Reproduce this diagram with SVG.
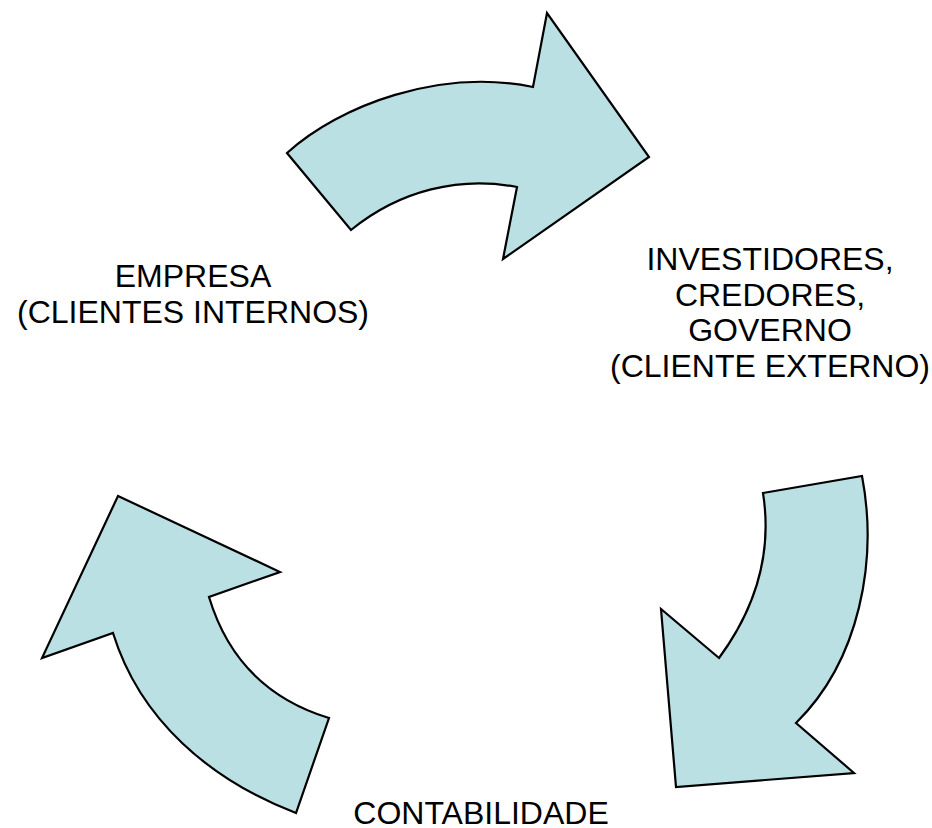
<svg xmlns="http://www.w3.org/2000/svg" width="932" height="828" viewBox="0 0 932 828">
<style>
.arrow{fill:#BBE0E3;stroke:#000;stroke-width:2.2;stroke-linejoin:miter}
.lbl{font-family:"Liberation Sans",Arial,sans-serif;font-size:32px;fill:#000;text-anchor:middle}
</style>
<rect width="932" height="828" fill="#fff"/>
<g id="connectors">
<path id="arrow-top" class="arrow" d="M287,153 C340,105 440,68 533,87 L547,13 L649,157 L503,259 L517,187 C460,176 400,190 351,230 Z"/>
<path id="arrow-right" class="arrow" d="M763,493 L862,476 C878,560 860,660 796,723 L854,773 L676,787 L661,609 L719,658 C758,605 772,550 763,493 Z"/>
<path id="arrow-left" class="arrow" d="M118,496 L280,572 L209,597 C228,660 270,700 329,718 L296,813 C210,780 140,720 113,633 L42,658 Z"/>
</g>
<g id="node-empresa">
<text class="lbl" x="193" y="287">EMPRESA</text>
<text class="lbl" x="193" y="323">(CLIENTES INTERNOS)</text>
</g>
<g id="node-investidores">
<text class="lbl" x="770" y="270">INVESTIDORES,</text>
<text class="lbl" x="770" y="306">CREDORES,</text>
<text class="lbl" x="770" y="341">GOVERNO</text>
<text class="lbl" x="770" y="377">(CLIENTE EXTERNO)</text>
</g>
<g id="node-contabilidade">
<text class="lbl" x="481" y="824">CONTABILIDADE</text>
</g>
</svg>
